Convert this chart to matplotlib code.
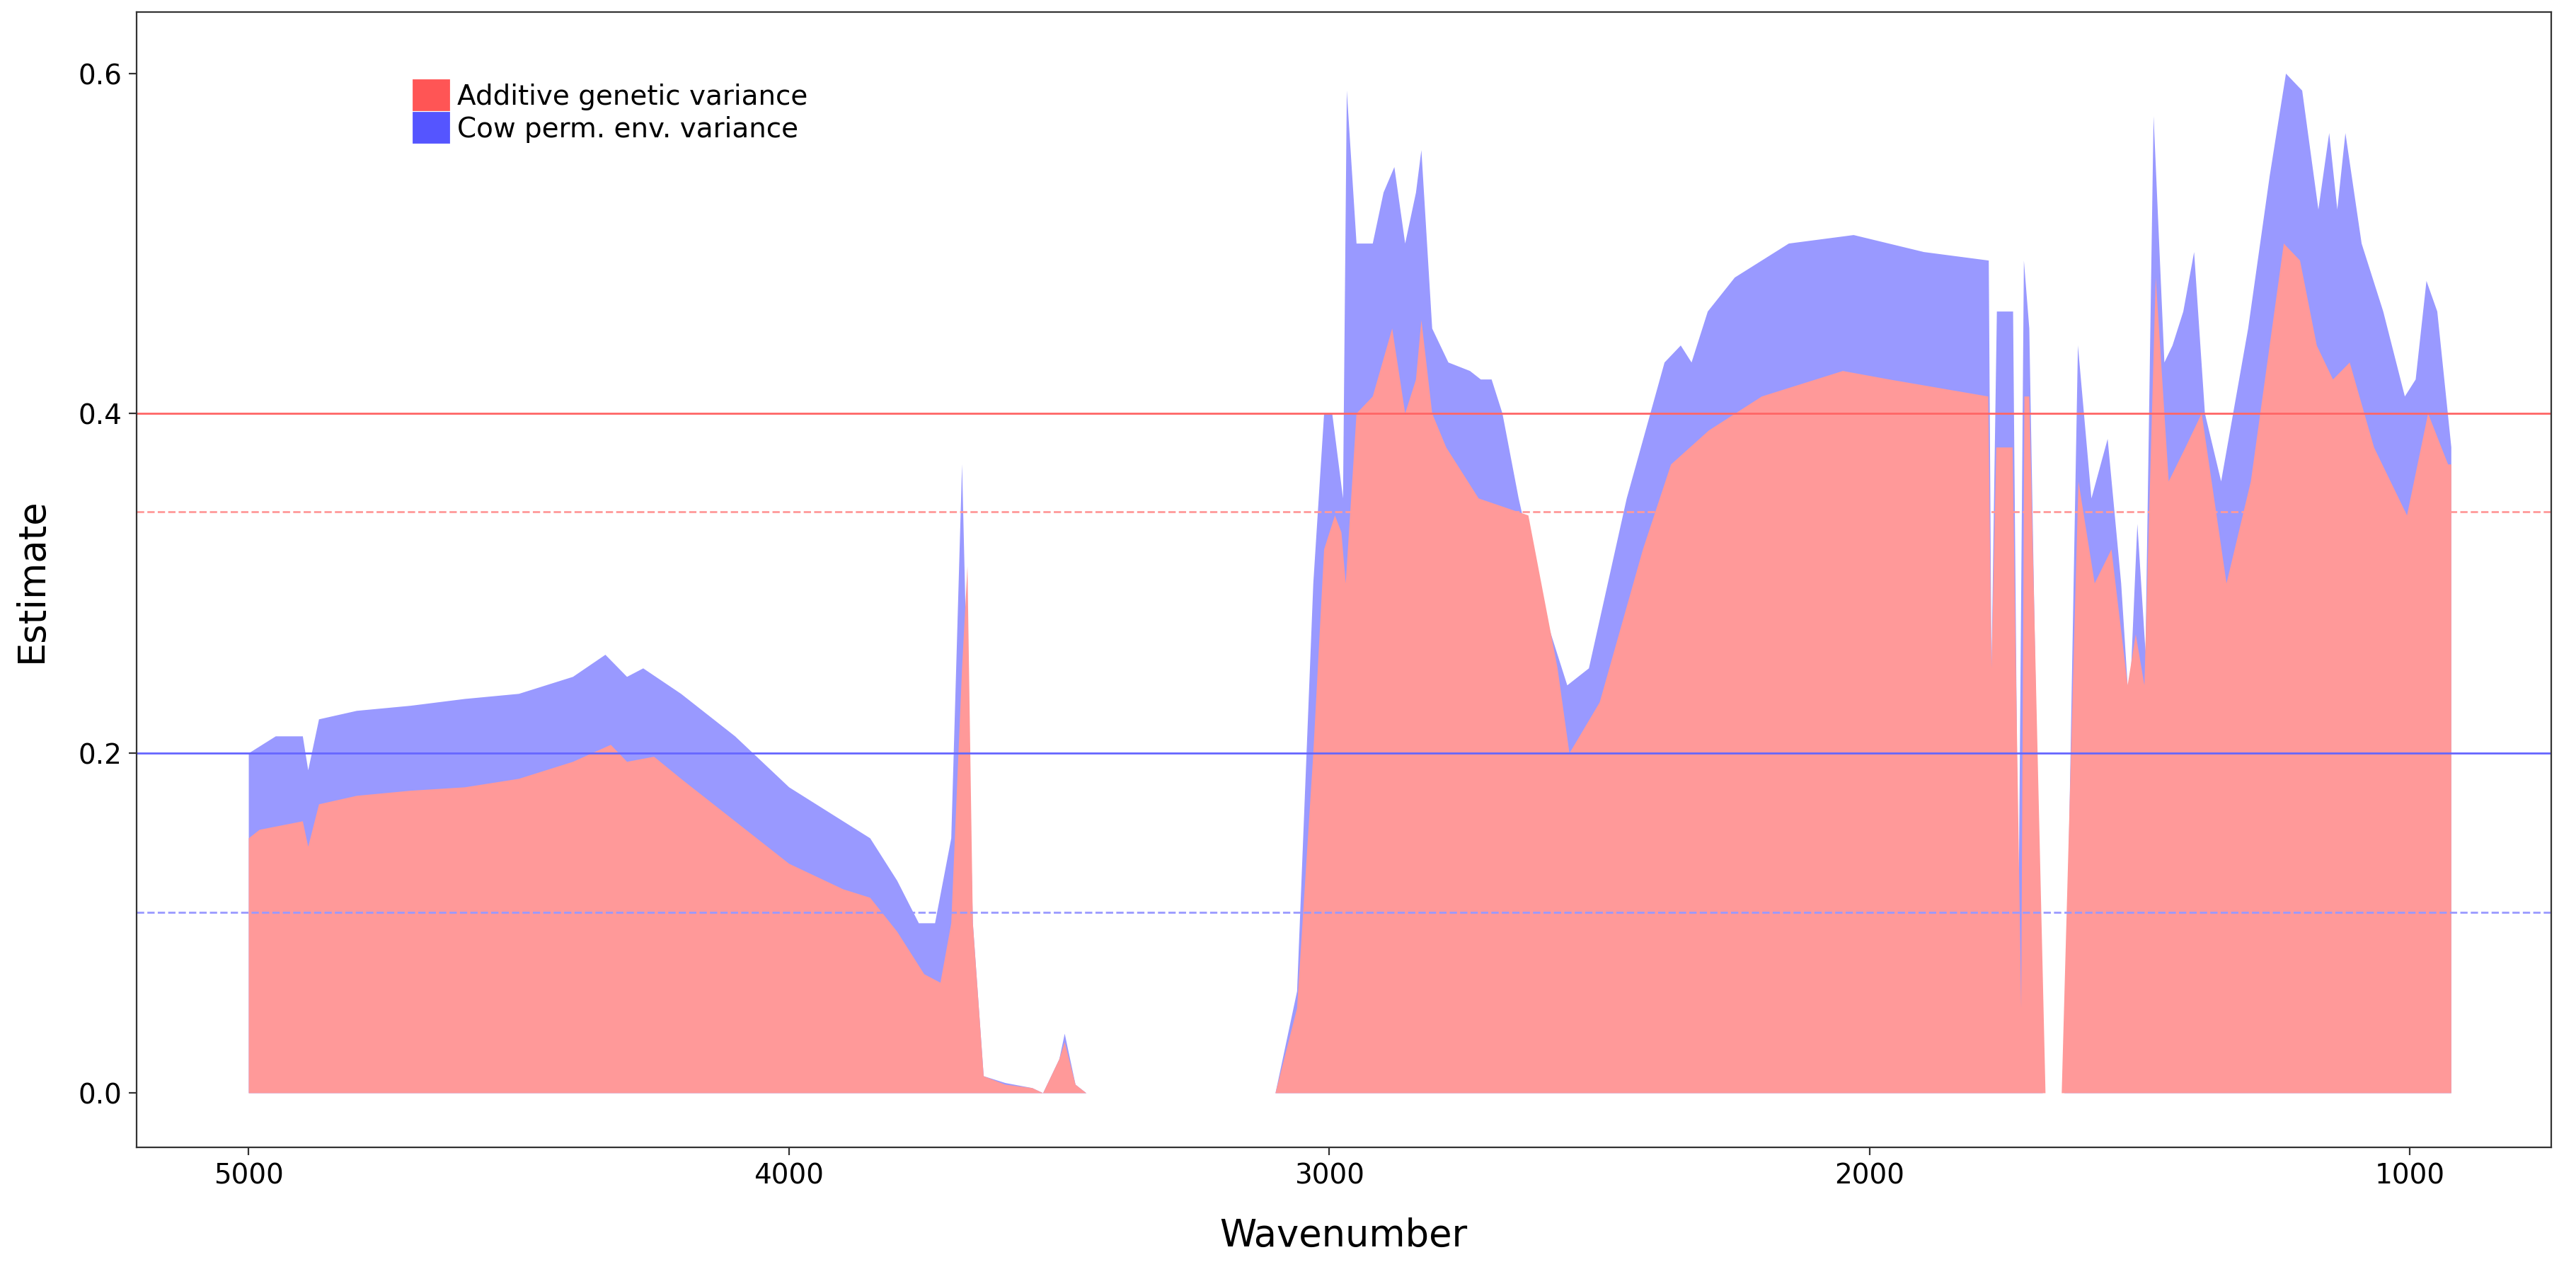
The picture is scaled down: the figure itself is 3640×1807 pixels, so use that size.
import numpy as np
import matplotlib
matplotlib.use('Agg')
import matplotlib.pyplot as plt
from matplotlib.patches import Patch

# ── Data ──────────────────────────────────────────────────────
# total = additive + cow permanent environment (top of blue band)
wn_total = [5000, 4950, 4900, 4890, 4870, 4800, 4700, 4600, 4500, 4400, 4340, 4300,
            4270, 4200, 4100, 4000, 3900, 3850, 3800, 3760, 3730, 3700, 3680, 3660,
            3640, 3600, 3550, 3530, 3500, 3490, 3470, 3450, 3100, 3060, 3030, 3010,
            2995, 2975, 2968, 2950, 2920, 2900, 2880, 2860, 2840, 2830, 2810, 2780,
            2740, 2720, 2700, 2680, 2650, 2600, 2560, 2520, 2450, 2380, 2350, 2330,
            2300, 2250, 2150, 2030, 1900, 1780, 1775, 1765, 1735, 1725, 1715, 1705,
            1680, 1640, 1615, 1590, 1560, 1535, 1520, 1505, 1490, 1475, 1455, 1440,
            1420, 1400, 1380, 1350, 1300, 1260, 1230, 1200, 1170, 1150, 1135, 1120,
            1090, 1050, 1010, 990, 970, 950, 924]
total = [0.200, 0.210, 0.210, 0.190, 0.220, 0.225, 0.228, 0.232, 0.235, 0.245, 0.258, 0.245,
         0.250, 0.235, 0.210, 0.180, 0.160, 0.150, 0.125, 0.100, 0.100, 0.150, 0.370, 0.100,
         0.010, 0.006, 0.003, 0.000, 0.020, 0.035, 0.005, 0.000, 0.000, 0.060, 0.300, 0.400,
         0.400, 0.350, 0.590, 0.500, 0.500, 0.530, 0.545, 0.500, 0.530, 0.555, 0.450, 0.430,
         0.425, 0.420, 0.420, 0.400, 0.350, 0.280, 0.240, 0.250, 0.350, 0.430, 0.440, 0.430,
         0.460, 0.480, 0.500, 0.505, 0.495, 0.490, 0.250, 0.460, 0.460, 0.100, 0.490, 0.450,
         0.000, 0.000, 0.440, 0.350, 0.385, 0.300, 0.225, 0.335, 0.260, 0.575, 0.430, 0.440,
         0.460, 0.495, 0.400, 0.360, 0.450, 0.540, 0.600, 0.590, 0.520, 0.565, 0.520, 0.565,
         0.500, 0.460, 0.410, 0.420, 0.478, 0.460, 0.380]

wn_add = [5000, 4980, 4900, 4890, 4870, 4800, 4700, 4600, 4500, 4400, 4330, 4300,
          4250, 4200, 4100, 4000, 3900, 3850, 3800, 3750, 3720, 3700, 3680, 3670,
          3660, 3640, 3600, 3550, 3530, 3500, 3490, 3470, 3450, 3100, 3060, 3030,
          3010, 2990, 2978, 2970, 2950, 2920, 2884, 2860, 2840, 2830, 2810, 2784,
          2724, 2632, 2578, 2556, 2500, 2420, 2368, 2298, 2200, 2050, 1964, 1781,
          1775, 1766, 1736, 1720, 1714, 1705, 1675, 1645, 1614, 1584, 1553, 1523,
          1508, 1492, 1471, 1447, 1416, 1386, 1340, 1295, 1234, 1204, 1173, 1143,
          1112, 1067, 1006, 967, 930, 924]
additive = [0.150, 0.155, 0.160, 0.145, 0.170, 0.175, 0.178, 0.180, 0.185, 0.195, 0.205, 0.195,
            0.198, 0.185, 0.160, 0.135, 0.120, 0.115, 0.095, 0.070, 0.065, 0.100, 0.250, 0.310,
            0.100, 0.010, 0.005, 0.003, 0.000, 0.020, 0.030, 0.005, 0.000, 0.000, 0.050, 0.200,
            0.320, 0.340, 0.330, 0.300, 0.400, 0.410, 0.450, 0.400, 0.420, 0.455, 0.400, 0.380,
            0.350, 0.340, 0.250, 0.200, 0.230, 0.320, 0.370, 0.390, 0.410, 0.425, 0.420, 0.410,
            0.250, 0.380, 0.380, 0.050, 0.410, 0.410, 0.000, 0.000, 0.360, 0.300, 0.320, 0.240,
            0.270, 0.240, 0.480, 0.360, 0.380, 0.400, 0.300, 0.360, 0.500, 0.490, 0.440, 0.420,
            0.430, 0.380, 0.340, 0.400, 0.370, 0.370]

ref_lines = [(0.4, '#ff6666', '-'), (0.342, '#ff9999', '--'),
             (0.2, '#6666ff', '-'), (0.106, '#9999ff', '--')]

# ── Plot ─────────────────────────────────────────────────────
fig = plt.figure(figsize=(18.205, 9.04), dpi=200)
ax = fig.add_axes([0.053, 0.103, 0.937, 0.887])

ax.fill_between(wn_total, total, 0, color='#9999ff', linewidth=0)
ax.fill_between(wn_add, additive, 0, color='#ff9999', linewidth=0)
for y, c, ls in ref_lines:
    ax.axhline(y, color=c, linestyle=ls, linewidth=1.0)

ax.set_xlim(5207, 739)
ax.set_ylim(-0.032, 0.636)
ax.set_xticks([5000, 4000, 3000, 2000, 1000])
ax.set_yticks([0.0, 0.2, 0.4, 0.6])
ax.set_yticklabels(['0.0', '0.2', '0.4', '0.6'])
ax.tick_params(labelsize=14, colors='black', length=4, color='#333333')
ax.set_xlabel('Wavenumber', fontsize=19, labelpad=14)
ax.set_ylabel('Estimate', fontsize=19, labelpad=14)
for s in ax.spines.values():
    s.set_color('#333333')
    s.set_linewidth(0.8)

handles = [Patch(color='#ff5555', label='Additive genetic variance'),
           Patch(color='#5555ff', label='Cow perm. env. variance')]
ax.legend(handles=handles, loc='upper left', bbox_to_anchor=(0.11, 0.95),
          frameon=False, fontsize=14, handlelength=1.3, handleheight=1.3,
          handletextpad=0.3, labelspacing=0.1, borderaxespad=0)

fig.savefig('out.png', dpi=200)
